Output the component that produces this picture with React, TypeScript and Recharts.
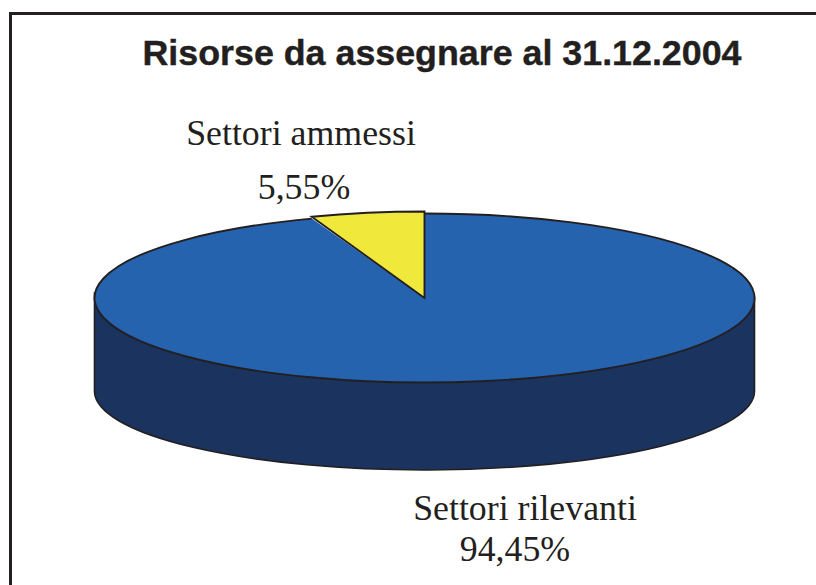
import { Cell, Pie, PieChart } from "recharts";

const sectors = ["Settori rilevanti", "Settori ammessi"];
const shares = [94.45, 5.55];
const chartTitle = "Risorse da assegnare al 31.12.2004";

const data = sectors.map((name, i) => ({ name, value: shares[i] }));

const TOP_COLORS = ["#2563af", "#f0e93c"];
const WALL_COLOR = "#1b335f";
const LINE_COLOR = "#231f20";
const SQUASH = 84.5 / 330;
const WALL_LEFT = 94;
const WALL_RIGHT = 92;
const WALL_RY = 79;
const SERIF = "'Liberation Serif', serif";

// label anchors, one per sector: [name x, name y, value x, value y]
const labelSpots = [
  [525, 520, 515, 561],
  [301, 145, 304, 199],
];

const rad = (deg: number) => (deg * Math.PI) / 180;

// recharts has no 3D pie, so the sectors get flattened into an ellipse here
function FlatSector(props: any) {
  const { cx, cy, outerRadius, startAngle, endAngle, fill, index } = props;
  const rx = outerRadius;
  const ry = outerRadius * SQUASH + (index === 1 ? 2 : 0);
  const x0 = cx + rx * Math.cos(rad(startAngle));
  const y0 = cy - ry * Math.sin(rad(startAngle));
  const x1 = cx + rx * Math.cos(rad(endAngle));
  const y1 = cy - ry * Math.sin(rad(endAngle));
  const large = Math.abs(startAngle - endAngle) > 180 ? 1 : 0;
  const arc = `L${x0},${y0} A${rx},${ry} 0 ${large} 1 ${x1},${y1}`;
  // the yellow slice sits a bit proud, so the blue one only strokes its rim
  if (index === 0) {
    return (
      <g>
        <path d={`M${cx},${cy} ${arc} Z`} fill={fill} stroke="none" />
        <path d={`M${x0},${y0} A${rx},${ry} 0 ${large} 1 ${x1},${y1}`} fill="none" stroke={LINE_COLOR} strokeWidth={1.9} />
      </g>
    );
  }
  return <path d={`M${cx},${cy} ${arc} Z`} fill={fill} stroke={LINE_COLOR} strokeWidth={1.9} />;
}

// front wall of the disc, only the big sector reaches the lower half
function WallSector(props: any) {
  const { cx, cy, outerRadius, index } = props;
  if (index !== 0) return <g />;
  const rx = outerRadius;
  return (
    <path
      d={`M${cx - rx},${cy - 5} L${cx - rx},${cy + WALL_LEFT} A${rx},${WALL_RY} 0 0 0 ${cx + rx},${cy + WALL_RIGHT} L${cx + rx},${cy} Z`}
      fill={WALL_COLOR}
      stroke={LINE_COLOR}
      strokeWidth={1.6}
    />
  );
}

function SectorLabel(props: any) {
  const { index, name, value } = props;
  const [nx, ny, vx, vy] = labelSpots[index];
  const text = value.toFixed(2).replace(".", ",") + "%";
  return (
    <g fontFamily={SERIF} fontSize={35.8} fill={LINE_COLOR} textAnchor="middle">
      <text x={nx} y={ny}>{name}</text>
      <text x={vx} y={vy}>{text}</text>
    </g>
  );
}

export default function App() {
  return (
    <div style={{ position: "absolute", left: 0, top: 0, width: 816, height: 585, overflow: "hidden", background: "#fff" }}>
      <div
        style={{
          position: "absolute",
          left: 9,
          top: 12,
          width: 807,
          height: 573,
          boxSizing: "border-box",
          borderLeft: `3px solid ${LINE_COLOR}`,
          borderTop: `3px solid ${LINE_COLOR}`,
        }}
      />
      <PieChart
        width={816}
        height={585}
        margin={{ top: 0, right: 0, bottom: 0, left: 0 }}
        style={{ position: "absolute", left: 0, top: 0 }}
      >
        <text
          x={442}
          y={65}
          textAnchor="middle"
          fontFamily="'Liberation Sans', Arial, sans-serif"
          fontWeight="bold"
          fontSize={35.8}
          fill={LINE_COLOR}
          stroke={LINE_COLOR}
          strokeWidth={0.4}
        >
          {chartTitle}
        </text>
        <Pie
          data={data}
          dataKey="value"
          nameKey="name"
          cx={424.5}
          cy={298}
          outerRadius={330}
          startAngle={90}
          endAngle={-270}
          paddingAngle={0}
          isAnimationActive={false}
          shape={WallSector}
          legendType="none"
        />
        <Pie
          data={data}
          dataKey="value"
          nameKey="name"
          cx={424.5}
          cy={298}
          outerRadius={330}
          startAngle={90}
          endAngle={-270}
          paddingAngle={0}
          isAnimationActive={false}
          shape={FlatSector}
          label={SectorLabel}
          labelLine={false}
        >
          {data.map((d, i) => (
            <Cell key={d.name} fill={TOP_COLORS[i]} />
          ))}
        </Pie>
      </PieChart>
    </div>
  );
}
